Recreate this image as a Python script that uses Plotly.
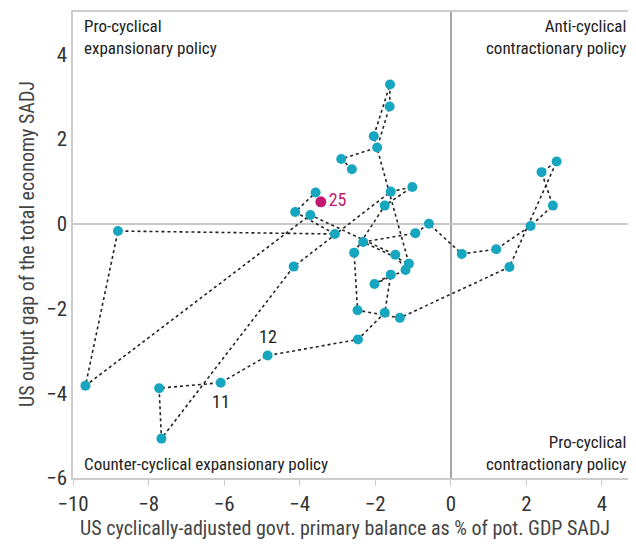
import plotly.graph_objects as go

# Annual path (cyan), 1985..2024
years = list(range(1985, 2025))
balance = [-2.62, -2.90, -1.95, -1.62, -1.61, -2.04, -1.11, -2.32, -0.94, -0.58,
           0.29, 1.20, 2.11, 2.70, 2.40, 2.80, 1.55, -1.35, -2.47, -2.56,
           -1.75, -1.02, -1.59, -4.16, -7.66, -7.72, -6.09, -4.85, -2.46, -1.75,
           -1.59, -2.02, -1.20, -1.47, -3.72, -9.67, -8.81, -3.07, -4.12, -3.58]
gap = [1.29, 1.53, 1.80, 2.77, 3.29, 2.07, -0.94, -0.43, -0.22, 0.00,
       -0.71, -0.60, -0.05, 0.43, 1.22, 1.47, -1.02, -2.22, -2.04, -0.68,
       0.43, 0.87, 0.76, -1.01, -5.07, -3.88, -3.75, -3.11, -2.73, -2.10,
       -1.20, -1.42, -1.09, -0.73, 0.21, -3.82, -0.17, -0.24, 0.28, 0.74]

last_balance = [-3.44]
last_gap = [0.52]
last_label = ["25"]

label_years = {2011: "11", 2012: "12"}

x_ticks = [-10, -8, -6, -4, -2, 0, 2, 4]
y_ticks = [-6, -4, -2, 0, 2, 4]

FONT = "Roboto Condensed, Liberation Sans Narrow, Roboto, sans-serif"
CYAN = "#17a6bf"
MAG = "#c2186f"
TXT = "#222222"

fig = go.Figure()
fig.add_trace(go.Scatter(
    x=balance, y=gap, mode="lines+markers",
    line=dict(color="#222222", width=1.6, dash="dot"),
    marker=dict(color=CYAN, size=10),
    hoverinfo="skip", showlegend=False))
fig.add_trace(go.Scatter(
    x=last_balance, y=last_gap, mode="markers+text",
    marker=dict(color=MAG, size=11),
    text=last_label, textposition="middle right",
    textfont=dict(color=MAG, size=18, family=FONT),
    hoverinfo="skip", showlegend=False))

for yr, lab in label_years.items():
    i = years.index(yr)
    fig.add_annotation(x=balance[i], y=gap[i], text=lab, showarrow=False,
                       yshift=-19 if lab == "11" else 19,
                       font=dict(size=18, color=TXT, family=FONT))

qfont = dict(size=17, color=TXT, family=FONT)
fig.add_annotation(xref="paper", yref="paper", x=0.016, y=0.995, xanchor="left", yanchor="top",
                   text="Pro-cyclical<br>expansionary policy", showarrow=False, align="left", font=qfont)
fig.add_annotation(xref="paper", yref="paper", x=0.985, y=0.995, xanchor="right", yanchor="top",
                   text="Anti-cyclical<br>contractionary policy", showarrow=False, align="right", font=qfont)
fig.add_annotation(xref="paper", yref="paper", x=0.016, y=0.005, xanchor="left", yanchor="bottom",
                   text="Counter-cyclical expansionary policy", showarrow=False, align="left", font=qfont)
fig.add_annotation(xref="paper", yref="paper", x=0.985, y=0.005, xanchor="right", yanchor="bottom",
                   text="Pro-cyclical<br>contractionary policy", showarrow=False, align="right", font=qfont)

# axis titles
fig.add_annotation(xref="paper", yref="paper", x=0.483, y=0, yanchor="top", yshift=-36,
                   text="US cyclically-adjusted govt. primary balance as % of pot. GDP SADJ",
                   showarrow=False, font=dict(size=20, color="#444444", family=FONT))
fig.add_annotation(xref="paper", yref="paper", x=0, y=0.502, xanchor="center", xshift=-46,
                   text="US output gap of the total economy SADJ", textangle=-90,
                   showarrow=False, font=dict(size=20, color="#444444", family=FONT))

# page body has an 8px margin: size the figure so the plot area lands where the reference has it
fig.update_layout(
    width=628, height=537,
    margin=dict(l=65, r=0, t=4, b=67),
    plot_bgcolor="white", paper_bgcolor="white",
    font=dict(family=FONT, color="#333333"),
    xaxis=dict(range=[-10, 4.9], tickvals=x_ticks, automargin=False,
               showgrid=False, zeroline=True, zerolinecolor="#a6a6a6", zerolinewidth=1.5,
               showline=True, linecolor="#cccccc", linewidth=1.5, mirror=True,
               ticks="outside", ticklen=6, tickcolor="#cccccc",
               tickfont=dict(size=21, color="#333333")),
    yaxis=dict(range=[-6, 5], tickvals=y_ticks, automargin=False,
               showgrid=False, zeroline=True, zerolinecolor="#c8c8c8", zerolinewidth=2,
               showline=True, linecolor="#cccccc", linewidth=1.5, mirror=False,
               ticks="", tickfont=dict(size=21, color="#333333")),
)

fig.write_html("out.html")
